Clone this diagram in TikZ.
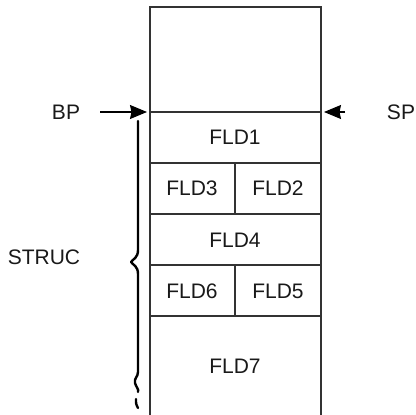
\documentclass[tikz,border=0pt]{standalone}
\usepackage{fontspec}
\setmainfont{Liberation Sans}
\usetikzlibrary{arrows.meta}
\begin{document}
\begin{tikzpicture}[x=1pt,y=-1pt,
  lbl/.style={font=\fontsize{21}{21}\selectfont, inner sep=0pt, text=black!90},
  frame/.style={line width=1.8pt, draw=black!80},
  ptr/.style={line width=1.1pt, -{Stealth[length=17pt,width=14pt,inset=1.5pt]}},
  brc/.style={line width=2.4pt, line cap=round, line join=round}]
\useasboundingbox (0,0) rectangle (416,415);
% frame
\draw[frame] (150,417) -- (150,7) -- (321,7) -- (321,417);
\draw[frame] (150,112) -- (321,112);
\draw[frame] (150,163) -- (321,163);
\draw[frame] (150,214) -- (321,214);
\draw[frame] (150,265) -- (321,265);
\draw[frame] (150,316) -- (321,316);
\draw[frame] (235,163) -- (235,214);
\draw[frame] (235,265) -- (235,316);
% field labels
\node[lbl] (f1) at (235,137) {FLD1};
\node[lbl] (f3) at (192,188.5) {FLD3};
\node[lbl] (f2) at (278,188.5) {FLD2};
\node[lbl] (f4) at (235,240) {FLD4};
\node[lbl] (f6) at (192,291) {FLD6};
\node[lbl] (f5) at (278,291) {FLD5};
\node[lbl] (f7) at (235,366) {FLD7};
% pointers
\node[lbl] (bp) at (66,112) {BP};
\node[lbl] (sp) at (401,112) {SP};
\coordinate (bpa) at (100,112);
\coordinate (bpt) at (147,112);
\coordinate (spa) at (345,112);
\coordinate (spt) at (324,112);
\draw[ptr] (bpa) -- (bpt);
\draw[ptr] (spa) -- (spt);
% brace
\node[lbl] (struc) at (44,257) {STRUC};
\draw[brc] (138,121) -- (138,250) .. controls (138,258) and (133,259) .. (131,262)
  .. controls (133,265) and (138,266) .. (138,274) -- (138,372)
  .. controls (138,377) and (134,378) .. (135,383)
  .. controls (136,387) and (139,389) .. (138,392);
\draw[brc] (136,399) .. controls (136,404) .. (138,408);
\end{tikzpicture}
\end{document}
